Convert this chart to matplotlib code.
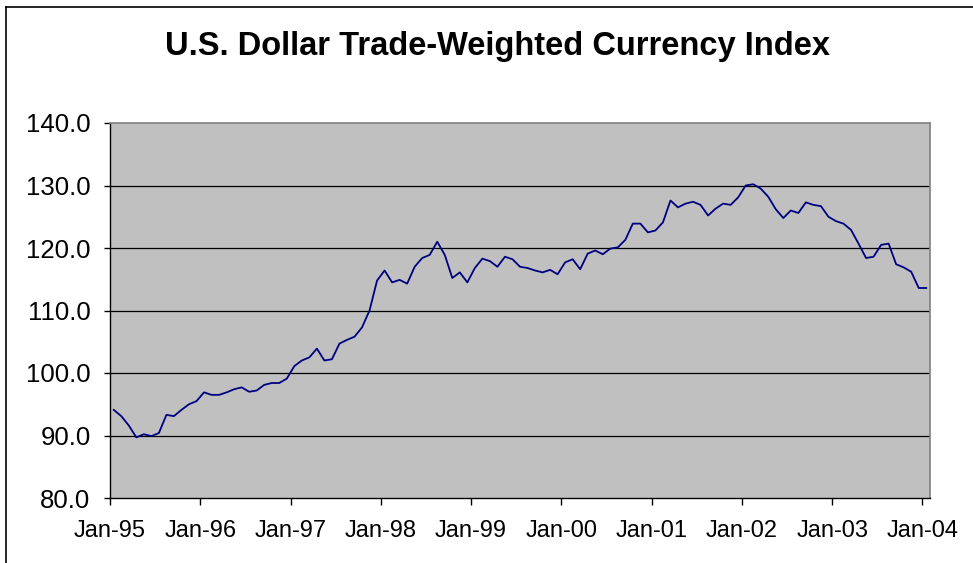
import numpy as np
import matplotlib
matplotlib.use("Agg")
import matplotlib.pyplot as plt
from matplotlib.lines import Line2D

plt.rcParams['font.family'] = ['Liberation Sans', 'DejaVu Sans']

# monthly index values, Jan-95 .. Jan-04
values = [
    94.1, 93.1, 91.6, 89.7, 90.2, 89.9, 90.4, 93.3, 93.1, 94.1, 95.0, 95.5,
    96.9, 96.5, 96.5, 96.9, 97.4, 97.7, 97.0, 97.2, 98.1, 98.4, 98.4, 99.1,
    101.1, 102.0, 102.5, 103.9, 102.0, 102.2, 104.7, 105.3, 105.8, 107.3, 110.0, 114.8,
    116.4, 114.5, 114.9, 114.3, 117.0, 118.4, 118.9, 121.0, 118.9, 115.2, 116.1, 114.5,
    116.8, 118.3, 117.9, 117.0, 118.6, 118.2, 117.0, 116.8, 116.4, 116.1, 116.5, 115.8,
    117.7, 118.2, 116.6, 119.1, 119.6, 119.0, 119.9, 120.1, 121.3, 123.9, 123.9, 122.5,
    122.8, 124.1, 127.6, 126.5, 127.1, 127.4, 126.9, 125.2, 126.3, 127.1, 126.9, 128.1,
    130.0, 130.2, 129.5, 128.2, 126.2, 124.8, 126.0, 125.6, 127.3, 126.9, 126.7, 125.0,
    124.3, 123.9, 122.9, 120.7, 118.4, 118.6, 120.5, 120.7, 117.4, 116.9, 116.2, 113.6,
    113.6,
]
year_labels = ["Jan-95", "Jan-96", "Jan-97", "Jan-98", "Jan-99",
               "Jan-00", "Jan-01", "Jan-02", "Jan-03", "Jan-04"]
y_ticks = [80, 90, 100, 110, 120, 130, 140]

W, H = 973, 563
fig = plt.figure(figsize=(W / 100, H / 100), dpi=100)
ax = fig.add_axes([110 / W, 1 - 498 / H, 820 / W, 375 / H])

months = np.arange(len(values)) + 0.5
ax.plot(months, values, color='#000080', lw=1.3, zorder=3)

ax.set_facecolor('#c0c0c0')
ax.set_xlim(0, len(values))
ax.set_ylim(80, 140)

ax.set_yticks(y_ticks)
ax.set_yticklabels([f"{v:.1f}" for v in y_ticks], fontsize=18.5)
ax.set_xticks(np.arange(len(year_labels)) * 12)
ax.set_xticklabels(year_labels, fontsize=17)
ax.tick_params(axis='y', direction='out', length=4, width=1, pad=10)
ax.tick_params(axis='x', direction='out', length=5, width=1, pad=11)

for v in y_ticks[1:-1]:
    ax.axhline(v, color='black', lw=0.9, zorder=2)

for side in ('top', 'right'):
    ax.spines[side].set_color('#808080')
    ax.spines[side].set_linewidth(1.2)
for side in ('left', 'bottom'):
    ax.spines[side].set_color('black')
    ax.spines[side].set_linewidth(1.0)

fig.text(497 / W, 1 - 47 / H, "U.S. Dollar Trade-Weighted Currency Index",
         ha='center', va='center', fontsize=23.5, fontweight='bold')

# chart-area frame (left and top edges are visible in the original)
fig.add_artist(Line2D([6 / W, 6 / W], [0, 1 - 7 / H], color='black', lw=1.2,
                      transform=fig.transFigure))
fig.add_artist(Line2D([6 / W, 1], [1 - 7 / H, 1 - 7 / H], color='black', lw=1.2,
                      transform=fig.transFigure))

fig.savefig("out.png", dpi=100)
